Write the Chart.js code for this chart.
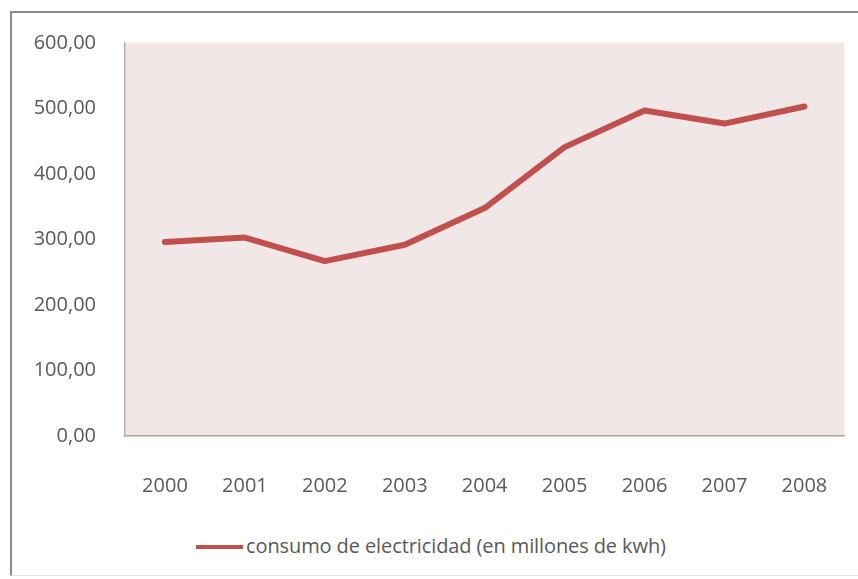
<!DOCTYPE html>
<html>
<head>
<meta charset="utf-8">
<script src="https://cdn.jsdelivr.net/npm/chart.js@4/dist/chart.umd.min.js"></script>
<style>
    body { margin: 0; background: #fff; }
    #marco { position: absolute; left: 10px; top: 11px; width: 846px; height: 562px;
             border-left: 2px solid #8c8c8c; border-top: 2px solid #8c8c8c; border-bottom: 1px solid #e4e4e4; }
    #lienzo { position: absolute; left: 0; top: 0; width: 858px; height: 510px; }
    #leyenda { position: absolute; left: 196px; top: 532px; font-family: "Open Sans", sans-serif;
               font-size: 20px; color: #595959; white-space: nowrap; letter-spacing: -0.1px; }
    #leyenda span.linea { display: inline-block; width: 47px; height: 4px; background: #C0504D;
                          vertical-align: middle; margin-right: 3px; position: relative; top: -1px; }
</style>
</head>
<body>
<div id="marco"></div>
<div id="lienzo"><canvas id="graficoConsumo" width="858" height="510"></canvas></div>
<div id="leyenda"><span class="linea"></span><span id="textoLeyenda"></span></div>
<script>
// ------------------------------------------------ DATOS ------------------------------------------------

    const anios = ["2000", "2001", "2002", "2003", "2004", "2005", "2006", "2007", "2008"];
    const consumo = [296, 303, 267, 292, 348, 441, 497, 477, 503];
    const etiquetaSerie = 'consumo de electricidad (en millones de kwh)';

// ------------------------------------------------ GRAFICO ------------------------------------------------

    document.getElementById('textoLeyenda').textContent = etiquetaSerie;

    const fondoArea = {
        id: 'fondoArea',
        beforeDraw(chart) {
            const {ctx, chartArea: a} = chart;
            ctx.save();
            ctx.fillStyle = '#F2E7E7';
            ctx.fillRect(a.left, a.top, a.right - a.left, a.bottom - a.top);
            ctx.restore();
        }
    };

    const configConsumo = {
        type: 'line',
        data: {
            labels: anios,
            datasets: [{
                label: etiquetaSerie,
                data: consumo,
                borderColor: '#C0504D',
                backgroundColor: '#C0504D',
                borderWidth: 6,
                pointRadius: 0,
                borderCapStyle: 'round',
                borderJoinStyle: 'round',
                tension: 0
            }]
        },
        options: {
            responsive: false,
            animation: false,
            layout: { padding: { top: 43, right: 13, left: 0, bottom: 0 } },
            plugins: {
                legend: { display: false },
                tooltip: { enabled: false }
            },
            scales: {
                x: {
                    offset: true,
                    grid: { display: false },
                    border: { color: '#a6a6a6', width: 1.5 },
                    ticks: {
                        color: '#595959',
                        padding: 30,
                        font: { family: 'Open Sans', size: 20 },
                        maxRotation: 0
                    },
                    afterFit(scale) { scale.height = 74; }
                },
                y: {
                    min: 0,
                    max: 600,
                    grid: { display: false },
                    border: { color: '#b0b0b0', width: 1.5 },
                    ticks: {
                        stepSize: 100,
                        color: '#595959',
                        padding: 21,
                        font: { family: 'Open Sans', size: 20 },
                        callback: (v) => v.toFixed(2).replace('.', ',')
                    },
                    afterFit(scale) { scale.width = 125; }
                }
            }
        },
        plugins: [fondoArea]
    };

    var consumoChart = new Chart(
        document.getElementById('graficoConsumo'),
        configConsumo
    );
</script>
</body>
</html>
